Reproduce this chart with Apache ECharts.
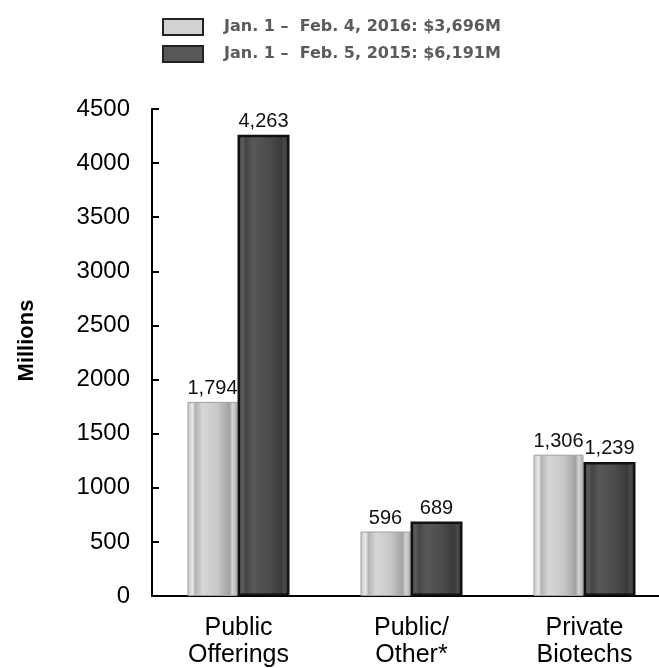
<!DOCTYPE html>
<html><head><meta charset="utf-8">
<script src="https://cdn.jsdelivr.net/npm/echarts@6/dist/echarts.min.js"></script>
<style>html,body{margin:0;padding:0;background:#fff;overflow:hidden}#c{width:671px;height:668px}</style>
</head><body><div id="c"></div>
<script>
const categories = ['Public\nOfferings', 'Public/\nOther*', 'Private\nBiotechs'];
const seriesNames = ['Jan. 1 \u2013  Feb. 4, 2016: $3,696M', 'Jan. 1 \u2013  Feb. 5, 2015: $6,191M'];
const values2016 = [1794, 596, 1306];
const values2015 = [4263, 689, 1239];
const yTicks = { min: 0, max: 4500, interval: 500 };

const lightFill = new echarts.graphic.LinearGradient(0, 0, 1, 0, [
  {offset: 0, color: '#c4c4c4'}, {offset: 0.1, color: '#e8e8e8'}, {offset: 0.16, color: '#b4b4b4'},
  {offset: 0.3, color: '#d6d6d6'}, {offset: 0.6, color: '#c8c8c8'}, {offset: 0.84, color: '#a2a2a2'},
  {offset: 0.9, color: '#d2d2d2'}, {offset: 1, color: '#b0b0b0'}
]);
const darkFill = new echarts.graphic.LinearGradient(0, 0, 1, 0, [
  {offset: 0, color: '#3c3c3c'}, {offset: 0.1, color: '#5c5c5c'}, {offset: 0.16, color: '#444444'},
  {offset: 0.3, color: '#575757'}, {offset: 0.6, color: '#4c4c4c'}, {offset: 0.84, color: '#3a3a3a'},
  {offset: 0.9, color: '#4a4a4a'}, {offset: 1, color: '#2e2e2e'}
]);
const fmt = p => p.value.toLocaleString('en-US');
const labelStyle = {show: true, position: 'top', distance: 3, formatter: fmt, fontFamily: 'Liberation Sans', fontSize: 20, color: '#111'};
const chart = echarts.init(document.getElementById('c'), null, {renderer: 'canvas'});
chart.setOption({
  animation: false,
  legend: {
    orient: 'vertical', left: 157, top: 13, itemWidth: 40, itemHeight: 16, itemGap: 9, icon: 'rect',
    textStyle: {fontFamily: 'DejaVu Sans', fontWeight: 'bold', fontSize: 16, lineHeight: 16, color: '#5a5b5d', padding: [0, 0, 0, 16]},
    data: [
      {name: seriesNames[0], itemStyle: {color: '#d2d2d2', borderColor: '#222', borderWidth: 2}},
      {name: seriesNames[1], itemStyle: {color: '#58585a', borderColor: '#222', borderWidth: 2}}
    ]
  },
  grid: {left: 152, top: 109, bottom: 72, right: 0, containLabel: false, outerBoundsMode: 'none'},
  xAxis: {
    type: 'category', data: categories,
    axisLine: {lineStyle: {color: '#000', width: 2}},
    axisTick: {show: false},
    axisLabel: {fontFamily: 'Liberation Sans', fontSize: 25, color: '#000', lineHeight: 27, margin: 19}
  },
  yAxis: {
    type: 'value', min: yTicks.min, max: yTicks.max, interval: yTicks.interval,
    name: 'Millions', nameLocation: 'middle', nameGap: 114,
    nameTextStyle: {fontFamily: 'Liberation Sans', fontWeight: 'bold', fontSize: 22, color: '#000', padding: [0, 0, 0, 24]},
    axisLine: {show: true, lineStyle: {color: '#000', width: 2}},
    axisTick: {show: true, inside: true, length: 7, lineStyle: {color: '#000', width: 2}},
    splitLine: {show: false},
    axisLabel: {fontFamily: 'Liberation Sans', fontSize: 24, color: '#000', margin: 22, formatter: v => String(v)}
  },
  series: [
    {name: seriesNames[0], type: 'bar', data: values2016, barWidth: 50, barGap: '0%',
     itemStyle: {color: lightFill, borderColor: '#a0a0a0', borderWidth: 1}, label: labelStyle},
    {name: seriesNames[1], type: 'bar', data: values2015, barWidth: 52,
     itemStyle: {color: darkFill, borderColor: '#111', borderWidth: 2.5}, label: labelStyle}
  ]
});
</script></body></html>
